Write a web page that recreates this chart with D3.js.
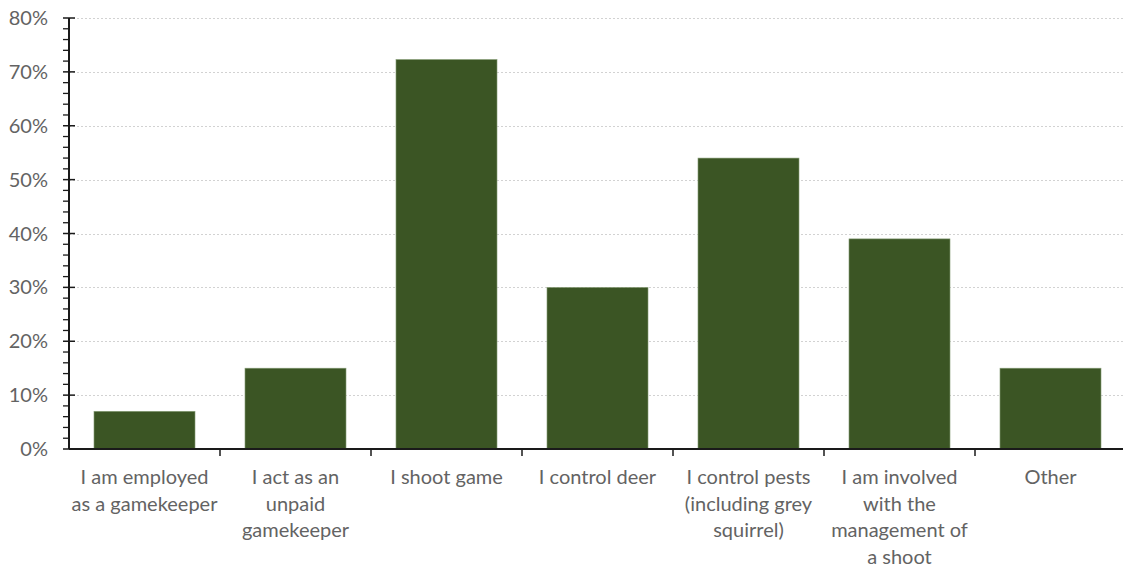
<!DOCTYPE html>
<html>
<head>
<meta charset="utf-8">
<script src="https://cdn.jsdelivr.net/npm/d3@7"></script>
<style>
  html, body { margin: 0; padding: 0; background: #fff; }
  svg { display: block; }
  text { font-family: "Lato", "Open Sans", sans-serif; fill: #636363; }
</style>
</head>
<body>
<svg id="chart" width="1123" height="568"></svg>
<script>
// Survey responses: share of respondents per activity
const categories = [
  ["I am employed", "as a gamekeeper"],
  ["I act as an", "unpaid", "gamekeeper"],
  ["I shoot game"],
  ["I control deer"],
  ["I control pests", "(including grey", "squirrel)"],
  ["I am involved", "with the", "management of", "a shoot"],
  ["Other"]
];
const values = [7, 15, 72.3, 30, 54, 39, 15];
const yTicks = [0, 10, 20, 30, 40, 50, 60, 70, 80];

const svg = d3.select("#chart");
const W = 1123, H = 568;
const plot = { left: 69, right: 1126, top: 18, bottom: 449 };

// one band per category; bars take two thirds of the band
const xOuter = d3.scaleBand()
  .domain(d3.range(categories.length))
  .range([plot.left, plot.right]);

const x = d3.scaleBand()
  .domain(d3.range(categories.length))
  .range([plot.left, plot.right])
  .paddingInner(0.331)
  .paddingOuter(0.1655);

const y = d3.scaleLinear().domain([0, 80]).range([plot.bottom, plot.top]);

// dotted gridlines
svg.append("g")
  .selectAll("line")
  .data(yTicks.filter(d => d > 0))
  .join("line")
  .attr("x1", plot.left)
  .attr("x2", W)
  .attr("y1", d => Math.round(y(d)) + 0.5)
  .attr("y2", d => Math.round(y(d)) + 0.5)
  .attr("stroke", "#d2d2d2")
  .attr("stroke-width", 1)
  .attr("stroke-dasharray", "2,2");

// bars
svg.append("g")
  .selectAll("rect")
  .data(values)
  .join("rect")
  .attr("x", (d, i) => x(i))
  .attr("width", x.bandwidth())
  .attr("y", d => y(d))
  .attr("height", d => y(0) - y(d))
  .attr("fill", "#3b5524")
  .attr("stroke", "#8aa07a")
  .attr("stroke-width", 0.6);

// y axis: minor ticks every 2%
const yAxis = svg.append("g").attr("transform", `translate(${plot.left},0)`);
yAxis.append("line")
  .attr("x1", 0).attr("x2", 0)
  .attr("y1", y(80)).attr("y2", y(0))
  .attr("stroke", "#1a1a1a").attr("stroke-width", 2);
yAxis.selectAll(".minor")
  .data(d3.range(0, 81, 2).filter(d => d % 10 !== 0))
  .join("line")
  .attr("x1", -6).attr("x2", 0)
  .attr("y1", d => y(d)).attr("y2", d => y(d))
  .attr("stroke", "#1a1a1a").attr("stroke-width", 1.3);
yAxis.selectAll(".major")
  .data(yTicks)
  .join("line")
  .attr("x1", -6).attr("x2", 6)
  .attr("y1", d => y(d)).attr("y2", d => y(d))
  .attr("stroke", "#1a1a1a").attr("stroke-width", 1.5);
yAxis.selectAll("text")
  .data(yTicks)
  .join("text")
  .attr("x", -21)
  .attr("y", d => y(d))
  .attr("dy", "0.35em")
  .attr("text-anchor", "end")
  .attr("font-size", 20)
  .text(d => d + "%");

// x axis
const xAxis = svg.append("g");
xAxis.append("line")
  .attr("x1", plot.left).attr("x2", W)
  .attr("y1", y(0)).attr("y2", y(0))
  .attr("stroke", "#1a1a1a").attr("stroke-width", 2);
xAxis.selectAll(".tick")
  .data(d3.range(1, categories.length))
  .join("line")
  .attr("x1", d => xOuter(d)).attr("x2", d => xOuter(d))
  .attr("y1", y(0)).attr("y2", y(0) + 7)
  .attr("stroke", "#1a1a1a").attr("stroke-width", 1.5);

const labels = xAxis.selectAll(".lbl")
  .data(categories)
  .join("text")
  .attr("text-anchor", "middle")
  .attr("font-size", 20)
  .attr("x", (d, i) => xOuter(i) + xOuter.bandwidth() / 2)
  .attr("y", y(0) + 35);
labels.selectAll("tspan")
  .data(d => d)
  .join("tspan")
  .attr("x", function() { return this.parentNode.getAttribute("x"); })
  .attr("dy", (d, i) => i === 0 ? 0 : 26.5)
  .text(d => d);
</script>
</body>
</html>
